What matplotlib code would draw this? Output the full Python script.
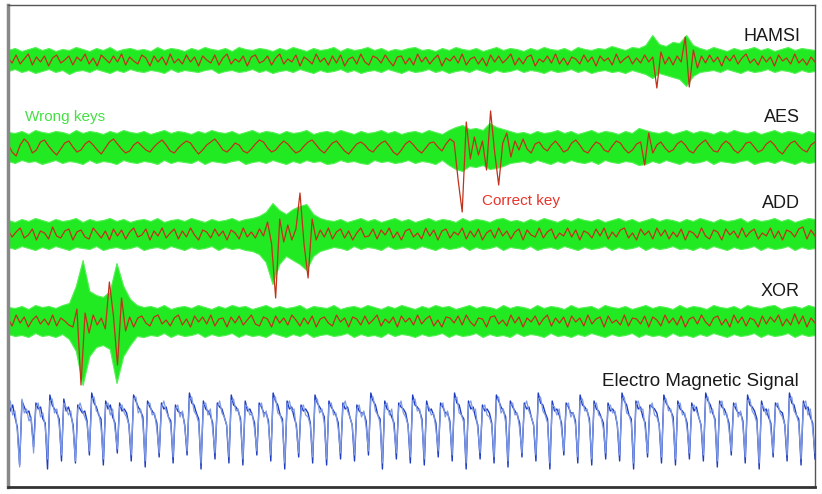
import numpy as np
import matplotlib
matplotlib.use("Agg")
import matplotlib.pyplot as plt

# === Traces, in pixel offsets from each trace's baseline (up = positive) ===
hamsi_red = [2,-3,5,-4,1,6,-5,3,-2,4,-6,2,5,-3,0,4,-5,3,-1,6,
             -4,2,-6,5,1,-3,4,-2,6,-5,3,-1,-4,5,2,-6,4,-2,3,-5,
             6,-3,1,-4,5,-2,3,-6,4,0,-3,5,-5,2,6,-4,1,-2,4,-6,
             3,5,-3,-1,4,-5,2,6,-4,1,-2,5,-6,3,0,-4,6,-2,2,-5,
             4,-3,5,-6,1,3,-4,6,-2,-5,4,2,-3,5,-1,-6,3,4,-4,2,
             -5,6,-2,3,-4,1,5,-6,2,-1,4,-3,6,-5,1,3,-4,2,-6,5,
             -2,4,-3,1,6,-5,2,-4,3,5,-6,1,-2,4,-3,6,-4,2,-5,3,
             1,-4,5,-2,3,-6,4,-1,2,-5,6,-3,1,4,-4,2,-3,5,-2,3,
             -28,8,-4,3,-5,4,-2,23,-27,10,-8,4,-3,5,-2,3,-6,4,-1,5,
             -4,2,6,-3,1,-5,4,-2,3,-6,5,-1,2,-4,6,-3,1,-5,3,-2]
aes_red = [3,-5,-9,2,8,4,-6,-3,5,7,1,-4,-8,-2,4,6,0,-5,-3,3,
           6,2,-3,-7,-1,5,8,3,-2,-6,-4,2,5,1,-3,-5,0,4,7,2,
           -4,-6,-1,3,6,4,-2,-7,-3,2,5,8,3,-3,-5,-1,4,2,-4,-6,
           -2,3,7,5,-1,-5,-3,2,6,3,-2,-6,-4,1,5,7,2,-3,-6,-1,
           4,6,1,-4,-7,-2,3,5,2,-3,-5,0,4,6,1,-5,-8,-3,3,6,
           2,-3,-6,-1,4,5,0,-4,3,8,5,-33,-65,25,-12,10,-8,6,-23,36,
           -5,-38,4,14,-10,6,-3,8,-2,-6,3,5,-1,-4,2,6,1,-5,-3,4,
           7,2,-4,-6,0,5,3,-3,-5,1,6,4,-2,-6,-3,3,5,-18,14,-6,
           2,5,-1,-5,-3,3,6,2,-4,-6,0,4,7,1,-4,-5,2,6,3,-3,
           -6,-2,4,5,0,-5,-3,3,6,2,-4,-7,-1,4,6,1,-3,-5,2,5]
add_red = [4,-3,2,6,-4,-1,5,-6,3,1,-5,7,-2,-4,3,5,-6,2,4,-3,
           -5,6,1,-4,3,-6,5,-2,4,-5,2,6,-3,-1,5,-6,3,-2,6,-4,
           1,5,-5,3,-3,6,-1,-6,4,2,-4,5,-2,3,-6,4,1,-5,6,-3,
           2,-4,5,-2,12,-10,-64,15,-8,9,-6,5,41,-10,-44,15,-6,4,-3,6,
           -5,2,5,-4,3,-6,1,6,-3,-2,5,-5,4,-1,6,-4,2,-6,3,5,
           -3,1,-5,6,-2,4,-6,3,5,-4,2,-1,6,-5,3,-3,5,-6,1,4,
           -4,6,-2,3,-5,2,5,-6,4,-1,-3,6,-4,2,5,-5,1,-2,6,-3,
           4,-6,3,1,-4,5,-2,6,-5,2,-3,4,6,-4,1,-6,5,-1,3,-5,
           6,-2,4,-5,2,-3,5,-6,3,1,-4,6,-2,-5,4,2,-6,5,-1,3,
           -4,6,-3,2,5,-5,1,-2,6,-4,3,-6,4,2,-3,5,7,-5,4,-2]
xor_red = [3,-5,6,-2,4,-6,1,5,-3,2,-4,6,-5,3,0,-4,-6,12,-64,8,
           -12,6,-4,3,-8,39,5,-44,23,-10,4,-6,3,5,-2,-5,4,6,-3,1,
           -5,3,6,-4,2,-6,5,-1,4,-3,6,-5,2,3,-6,4,-2,5,-4,1,
           6,-3,-5,4,2,-6,5,-2,3,-4,6,1,-5,3,-3,5,-6,2,4,-2,
           -5,6,-1,3,-6,4,2,-4,5,-3,1,6,-5,2,-2,4,-6,5,-1,3,
           -4,6,-3,2,5,-5,1,-6,4,3,-2,5,-4,6,-1,-5,3,2,-6,4,
           5,-3,1,-5,6,-2,4,-6,3,-1,5,-4,2,6,-5,3,-2,4,-6,5,
           -1,3,-5,6,-3,2,4,-6,5,-2,1,-4,6,-5,3,2,-3,5,-6,4,
           1,-5,6,-2,3,-4,5,-6,2,4,-3,6,-1,-5,3,5,-4,2,-6,6,
           -2,4,-5,3,1,-6,5,-3,4,-1,6,-5,2,-4,7,-3,5,-6,3,-2]

# wrong-key band: upper and lower extent
hamsi_green_up = [10,12,9,11,13,10,12,9,11,10,13,11,9,12,10,13,9,11,12,10,
                  11,9,13,10,12,11,9,12,10,13,11,10,12,9,13,11,10,12,11,9,
                  12,10,13,11,9,12,10,11,13,9,12,10,11,13,10,12,9,11,10,12,
                  13,10,11,9,12,10,13,11,10,12,9,11,13,10,12,11,9,12,10,13,
                  11,10,12,9,13,11,10,12,11,14,12,10,13,12,15,25,16,14,18,17,
                  25,15,12,10,13,11,9,12,10,11,13,10,12,9,11,13,10,12,11,10]
hamsi_green_lo = [11,9,12,10,13,11,9,12,10,14,11,10,12,9,11,13,10,12,9,11,
                  12,10,11,13,9,12,10,11,12,10,9,13,11,10,12,11,9,12,10,13,
                  11,10,12,9,11,13,10,12,11,9,12,10,13,11,10,12,9,11,13,10,
                  12,11,9,12,10,13,11,10,12,9,11,13,10,12,11,9,12,10,11,13,
                  10,12,11,9,12,10,13,11,10,12,11,13,10,12,14,18,13,15,17,19,
                  26,16,12,11,10,12,9,11,13,10,12,11,9,12,10,11,13,10,12,11]
aes_green_up = [15,14,16,13,17,15,14,16,15,13,17,14,16,15,13,16,14,17,15,14,
                16,13,15,17,14,16,15,13,16,14,17,15,14,16,13,15,17,14,16,15,
                13,16,14,15,17,13,15,16,14,17,15,13,16,14,15,17,14,16,13,15,
                16,14,17,15,13,17,20,22,18,19,17,24,20,18,16,14,15,13,16,14,
                15,17,14,16,13,15,17,14,16,15,13,16,14,19,17,15,14,16,13,15,
                17,14,16,15,13,16,14,17,15,14,16,13,15,17,14,16,15,13,16,14]
aes_green_lo = [14,16,13,15,14,17,15,13,16,14,15,17,13,16,14,15,17,13,15,16,
                14,15,17,13,16,14,15,16,13,17,14,15,16,14,13,17,15,14,16,13,
                15,17,14,16,13,15,14,17,16,13,15,14,16,17,13,15,14,16,15,13,
                16,14,15,17,13,18,22,24,19,20,18,22,21,19,16,15,14,16,13,15,
                17,14,16,13,15,16,14,17,13,15,16,14,15,18,17,14,16,13,15,17,
                14,16,15,13,17,14,15,16,14,13,17,15,14,16,13,15,17,14,16,15]
add_green_up = [14,12,15,13,16,14,12,15,13,14,16,12,15,13,14,16,13,15,12,14,
                15,13,16,12,14,15,13,16,14,12,15,13,14,16,13,15,16,18,22,31,
                24,20,25,28,30,20,16,14,13,15,12,14,16,13,15,12,14,16,13,15,
                12,14,16,13,15,14,12,16,13,15,14,12,15,16,13,14,12,15,13,16,
                14,12,15,13,16,14,13,15,12,14,16,13,15,12,14,16,13,15,14,12,
                15,13,16,14,12,15,13,14,16,12,15,13,14,16,13,15,12,14,16,15]
add_green_lo = [13,15,12,14,16,13,15,12,14,16,13,14,15,12,16,14,13,15,14,12,
                16,14,13,15,12,14,16,13,15,14,12,16,13,15,14,16,17,20,28,50,
                30,22,26,30,36,22,17,15,13,14,16,12,15,13,14,16,12,15,14,13,
                15,12,14,16,13,15,14,12,16,13,15,14,12,16,13,14,15,12,16,14,
                13,15,12,14,16,13,15,14,12,16,13,15,14,12,16,13,15,14,12,15,
                14,16,13,15,12,14,16,13,15,14,12,16,13,15,14,12,16,13,15,14]
xor_green_up = [14,13,15,12,16,14,15,13,16,18,35,61,30,26,24,30,58,35,22,16,
                14,15,13,16,12,14,15,13,16,14,12,15,13,16,14,15,12,14,16,13,
                15,13,14,16,12,15,14,13,16,12,14,15,13,16,14,12,15,13,16,14,
                12,15,13,16,14,15,12,14,16,13,15,14,12,16,13,15,14,12,16,13,
                15,14,12,16,13,14,15,12,16,14,13,15,12,14,16,13,15,14,12,16,
                13,15,14,12,16,14,13,15,12,16,14,13,15,16,12,14,15,13,16,14]
xor_green_lo = [13,15,14,16,12,15,14,16,13,18,30,64,35,26,24,28,62,35,24,15,
                16,14,15,12,16,13,15,14,12,16,13,15,14,12,16,13,15,14,16,12,
                14,16,13,15,12,16,14,13,15,14,12,16,13,15,14,16,12,15,13,14,
                16,13,15,14,12,16,13,15,14,12,16,13,15,14,16,12,15,13,14,16,
                12,15,14,16,13,15,12,14,16,13,15,14,12,16,13,15,14,16,12,15,
                14,16,13,15,12,14,16,13,15,14,12,16,13,15,14,12,16,13,15,14]

# electro magnetic signal, two overlaid captures
em_dark = [28,14,20,8,-2,-40, 24,18,12,14,4,-22, 22,16,18,6,2,-44, 30,20,16,12,6,-36,
           26,14,18,10,0,-38, 20,16,12,14,4,-30, 32,22,18,10,6,-40, 24,16,20,8,2,-28,
           22,14,16,12,0,-36, 30,24,18,14,8,-42, 24,18,14,10,2,-32, 22,16,18,8,4,-38,
           20,14,12,12,0,-30, 32,22,20,12,6,-44, 24,16,14,10,2,-34, 22,18,16,8,0,-38,
           30,20,18,14,6,-40, 24,14,16,10,2,-30, 22,18,12,12,4,-36, 32,24,20,10,6,-44,
           24,16,18,8,0,-32, 20,14,16,12,2,-38, 30,22,18,14,8,-40, 24,18,14,10,2,-34,
           22,16,18,8,0,-36, 20,14,12,12,4,-30, 32,24,20,10,6,-44, 24,16,14,8,2,-34,
           22,18,16,12,0,-38, 30,20,18,14,6,-40, 24,14,16,10,2,-32, 22,18,12,12,4,-36,
           32,22,20,10,6,-44, 24,16,18,8,0,-34, 20,14,16,12,2,-38, 30,24,18,14,8,-42,
           24,18,14,10,2,-32, 22,16,18,8,0,-36, 32,22,20,12,6,-44, 24,14,16,10,2,-30,
           22,18,12,12,4,-38, 30,20,18,14,6,-40, 24,16,14,8,2,-34, 22,14,16,12,0,-36,
           32,24,20,10,6,-44, 24,16,18,8,2,-32, 20,18,16,12,0,-38, 30,22,18,14,8,-40,
           24,16,14,10,2,-34, 22,14,18,8,0,-36, 32,24,20,12,6,-42, 24,18,16,10,2,-30,
           22,16,12,12,4,-38, 30,20,18,14,6,-44, 24,14,16,8,2,-32, 22,18,14,12,0,-36,
           32,22,20,10,6,-40, 24,16,18,8,2,-34]
em_light = [20,24,10,14,-6,-42, 26,12,16,4,8,-28, 18,22,8,12,-2,-34, 24,26,12,16,0,-30,
            22,18,10,14,-4,-36, 16,22,14,8,2,-26, 26,28,14,12,-2,-34, 20,22,10,16,-4,-24,
            18,20,12,8,0,-30, 26,28,12,16,2,-36, 20,22,10,12,-4,-28, 18,24,14,8,0,-32,
            16,20,8,14,-2,-26, 26,28,14,10,2,-38, 20,22,10,16,-4,-28, 18,24,12,8,0,-32,
            24,26,14,16,2,-34, 20,18,10,12,-4,-26, 18,22,8,14,0,-30, 26,28,12,10,2,-38,
            20,24,14,16,-4,-28, 16,20,10,8,0,-32, 24,26,12,16,2,-34, 20,22,10,12,-4,-28,
            18,24,14,8,0,-30, 16,20,8,14,-2,-26, 26,28,14,10,2,-38, 20,22,10,16,-4,-28,
            18,24,12,8,0,-32, 24,26,14,16,2,-34, 20,18,10,12,-4,-26, 18,22,8,14,0,-30,
            26,28,12,10,2,-38, 20,24,14,16,-4,-28, 16,20,10,8,0,-32, 24,28,12,16,2,-36,
            20,22,10,12,-4,-28, 18,24,14,8,0,-30, 26,28,14,10,2,-38, 20,18,10,16,-4,-26,
            18,22,8,12,0,-32, 24,26,14,16,2,-34, 20,22,10,8,-4,-28, 18,20,12,14,0,-30,
            26,28,12,10,2,-38, 20,24,14,16,-4,-28, 16,22,10,8,0,-32, 24,26,14,16,2,-34,
            20,22,10,12,-4,-28, 18,20,14,8,0,-30, 26,28,12,16,2,-36, 20,24,10,12,-4,-26,
            18,22,8,14,0,-32, 24,26,14,10,2,-38, 20,18,10,16,-4,-28, 18,22,12,8,0,-30,
            26,28,14,10,2,-34, 20,24,10,16,-4,-28]

trace_names = ["HAMSI", "AES", "ADD", "XOR"]
red_traces = [hamsi_red, aes_red, add_red, xor_red]
green_up = [hamsi_green_up, aes_green_up, add_green_up, xor_green_up]
green_lo = [hamsi_green_lo, aes_green_lo, add_green_lo, xor_green_lo]

# === Layout (frame pixel units) ===
W, H = 807, 482
baselines = [427, 340, 253, 166]
label_y = [450, 370, 283, 195]
em_base = 62

GREEN = "#22ea22"
RED = "#c0321a"

fig = plt.figure(figsize=(8.22, 4.94), dpi=100)
ax = fig.add_axes([8 / 822, 7 / 494, 807 / 822, 482 / 494])
ax.set_xlim(0, W)
ax.set_ylim(0, H)
ax.set_xticks([])
ax.set_yticks([])

for name, red, up, lo, base, ly in zip(trace_names, red_traces, green_up, green_lo, baselines, label_y):
    xg = np.linspace(0, W, len(up))
    ax.fill_between(xg, base + np.array(up), base - np.array(lo),
                    color=GREEN, linewidth=0.8, edgecolor="#55f055")
    xr = np.linspace(0, W, len(red))
    ax.plot(xr, base + np.array(red), color=RED, linewidth=0.9)
    ax.text(792, ly, name, ha="right", va="center", fontsize=13,
            family="Liberation Sans", color="#1a1a1a")

xe = np.linspace(0, W, len(em_dark))
ax.plot(xe, em_base + np.array(em_dark), color="#1e3cc0", linewidth=1.0)
ax.plot(xe, em_base + np.array(em_light), color="#7f9ae4", linewidth=0.9)
ax.text(791, 105, "Electro Magnetic Signal", ha="right", va="center",
        fontsize=13.5, family="Liberation Sans", color="#1a1a1a")

ax.text(17, 370, "Wrong keys", ha="left", va="center", fontsize=11,
        family="Liberation Sans", color="#44e044")
ax.text(474, 286, "Correct key", ha="left", va="center", fontsize=11,
        family="Liberation Sans", color="#e8342a")

for side in ["top", "right"]:
    ax.spines[side].set_color("#555555")
    ax.spines[side].set_linewidth(1.0)
ax.spines["left"].set_color("#888888")
ax.spines["left"].set_linewidth(2.5)
ax.spines["bottom"].set_color("#333333")
ax.spines["bottom"].set_linewidth(2.0)

fig.savefig("out.png", dpi=100)
